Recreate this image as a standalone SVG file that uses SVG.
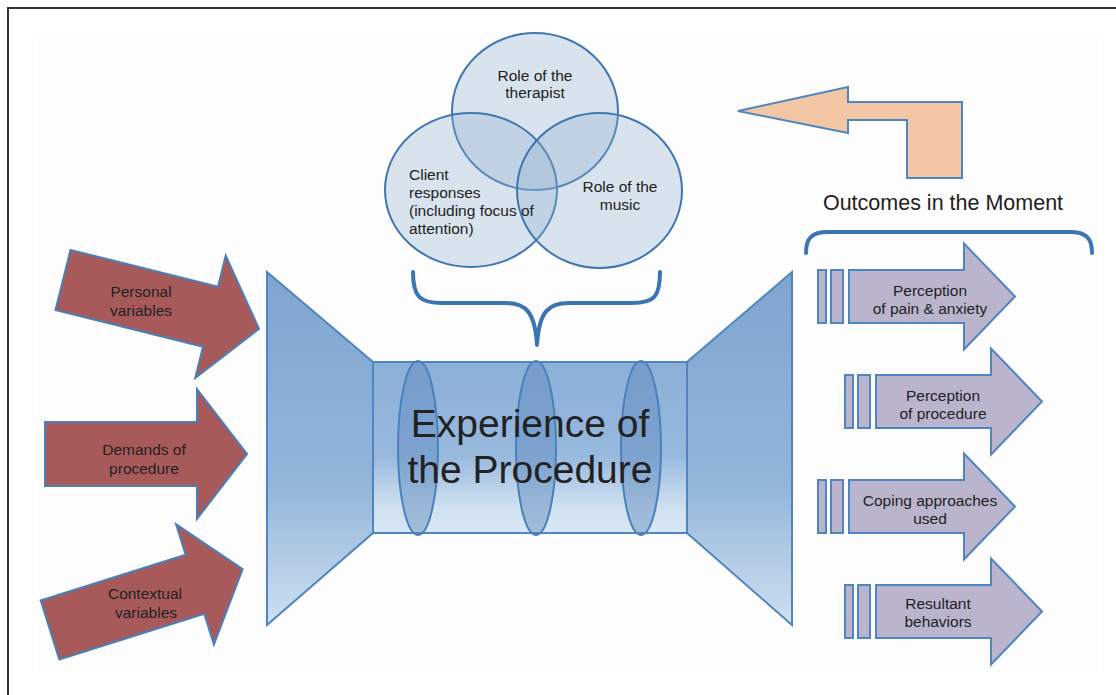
<svg xmlns="http://www.w3.org/2000/svg" xmlns:xlink="http://www.w3.org/1999/xlink" width="1116" height="695" viewBox="0 0 1116 695">
  <style>
    text { font-family: "Liberation Sans", Arial, Helvetica, sans-serif; fill: #222; }
    .lbl { font-size: 15.5px; text-anchor: middle; }
    .venn-txt { font-size: 15.5px; }
    .in-arrow { fill: #a85a5b; stroke: #4a7fb8; stroke-width: 2; stroke-linejoin: miter; }
    .out-arrow { fill: #bab5cd; stroke: #4f86c0; stroke-width: 2; }
    .venn { fill: #8fb0cf; fill-opacity: 0.33; stroke: #3f77b2; stroke-width: 2; }
    .lens { fill: #5a88bd; fill-opacity: 0.45; stroke: #4a80bb; stroke-width: 2; }
    .brace { fill: none; stroke: #3a74b4; stroke-width: 4; stroke-linecap: round; stroke-linejoin: round; }
    .funnel { stroke: #4f86c0; stroke-width: 2; }
  </style>
  <defs>
    <linearGradient id="wallGrad" x1="0" y1="0" x2="0" y2="1">
      <stop offset="0" stop-color="#7fa5cf"/>
      <stop offset="0.6" stop-color="#92b5da"/>
      <stop offset="1" stop-color="#cfe0f0"/>
    </linearGradient>
    <linearGradient id="tubeGrad" x1="0" y1="0" x2="0" y2="1">
      <stop offset="0" stop-color="#8cafd7"/>
      <stop offset="0.55" stop-color="#98b9de"/>
      <stop offset="0.85" stop-color="#cfe1f1"/>
      <stop offset="1" stop-color="#d9e7f4"/>
    </linearGradient>
    <!-- block arrow pointing right, origin at tail centre -->
    <path id="inArrowShape" d="M0,-31 L152,-31 L152,-63 L202,0 L152,63 L152,31 L0,31 Z"/>
    <!-- outcome arrow: two thin bars then a block arrow, origin at left/centre -->
    <g id="outArrowShape">
      <rect x="0" y="-26.5" width="8" height="53"/>
      <rect x="13" y="-26.5" width="12" height="53"/>
      <path d="M31,-26.5 L146,-26.5 L146,-53 L197,0 L146,53 L146,26.5 L31,26.5 Z"/>
    </g>
  </defs>

  <!-- page frame -->
  <rect x="38" y="33" width="1060" height="639" fill="#fdfdfd"/>
  <path d="M8,695 V8 H1116" fill="none" stroke="#333" stroke-width="2"/>

  <!-- input arrows -->
  <g id="personal-variables">
    <use xlink:href="#inArrowShape" class="in-arrow" transform="translate(63,280) rotate(14)"/>
    <text class="lbl" x="141" y="297">Personal</text>
    <text class="lbl" x="141" y="316">variables</text>
  </g>
  <g id="demands-of-procedure">
    <use xlink:href="#inArrowShape" class="in-arrow" transform="translate(45,454) scale(1,1.03)"/>
    <text class="lbl" x="144" y="455">Demands of</text>
    <text class="lbl" x="144" y="474">procedure</text>
  </g>
  <g id="contextual-variables">
    <use xlink:href="#inArrowShape" class="in-arrow" transform="translate(50,630) rotate(-17.5)"/>
    <text class="lbl" x="145" y="599">Contextual</text>
    <text class="lbl" x="146" y="618">variables</text>
  </g>

  <!-- central passage -->
  <g id="experience-of-the-procedure">
    <polygon class="funnel" points="267,272 373,362 373,533 267,625" fill="url(#wallGrad)"/>
    <polygon class="funnel" points="792,272 687,362 687,533 792,625" fill="url(#wallGrad)"/>
    <rect class="funnel" x="373" y="362" width="314" height="171" fill="url(#tubeGrad)"/>
    <ellipse class="lens" cx="418" cy="448" rx="20" ry="87"/>
    <ellipse class="lens" cx="536" cy="448" rx="20" ry="87"/>
    <ellipse class="lens" cx="641" cy="448" rx="20" ry="87"/>
    <text x="530" y="437" font-size="39" text-anchor="middle" fill="#111">Experience of</text>
    <text x="530" y="483" font-size="39" text-anchor="middle" fill="#111">the Procedure</text>
  </g>

  <!-- three overlapping influences -->
  <g id="influences">
    <ellipse class="venn" cx="535" cy="111.5" rx="83" ry="78.5"/>
    <ellipse class="venn" cx="471" cy="190" rx="86" ry="77"/>
    <ellipse class="venn" cx="599.5" cy="190.5" rx="82.5" ry="77.5"/>
    <text class="venn-txt" x="535" y="81" text-anchor="middle">Role of the</text>
    <text class="venn-txt" x="535" y="98" text-anchor="middle">therapist</text>
    <text class="venn-txt" x="409" y="180">Client</text>
    <text class="venn-txt" x="409" y="198">responses</text>
    <text class="venn-txt" x="409" y="216">(including focus of</text>
    <text class="venn-txt" x="409" y="234">attention)</text>
    <text class="venn-txt" x="620" y="192" text-anchor="middle">Role of the</text>
    <text class="venn-txt" x="620" y="210" text-anchor="middle">music</text>
  </g>

  <!-- feedback arrow -->
  <g id="feedback-arrow">
    <path d="M738,111 L848,87 L848,102 L962,102 L962,178 L907,178 L907,120 L848,120 L848,133 Z" fill="#f3c7a6" stroke="#4f86c0" stroke-width="2"/>
  </g>

  <!-- outcomes -->
  <g id="outcomes-title">
    <text x="943" y="210" font-size="21.5" text-anchor="middle">Outcomes in the Moment</text>
  </g>

  <g id="outcome-pain-anxiety">
    <use xlink:href="#outArrowShape" class="out-arrow" transform="translate(818,296.5)"/>
    <text class="lbl" x="930" y="296">Perception</text>
    <text class="lbl" x="930" y="314">of pain &amp; anxiety</text>
  </g>
  <g id="outcome-procedure">
    <use xlink:href="#outArrowShape" class="out-arrow" transform="translate(845,401.5)"/>
    <text class="lbl" x="943" y="401">Perception</text>
    <text class="lbl" x="943" y="419">of procedure</text>
  </g>
  <g id="outcome-coping">
    <use xlink:href="#outArrowShape" class="out-arrow" transform="translate(818,506.5)"/>
    <text class="lbl" x="930" y="506">Coping approaches</text>
    <text class="lbl" x="930" y="524">used</text>
  </g>
  <g id="outcome-behaviors">
    <use xlink:href="#outArrowShape" class="out-arrow" transform="translate(845,611.5)"/>
    <text class="lbl" x="938" y="609">Resultant</text>
    <text class="lbl" x="938" y="627">behaviors</text>
  </g>

  <!-- braces -->
  <g id="connectors">
    <path class="brace" d="M413,272 C413,297 420,303 442,303 L505,303 C526,303 535,312 537,345 C539,312 548,303 569,303 L632,303 C654,303 660,297 660,272"/>
    <path class="brace" d="M806,253 C806,238 812,232 828,232 L1070,232 C1086,232 1092,238 1092,253"/>
  </g>
</svg>
